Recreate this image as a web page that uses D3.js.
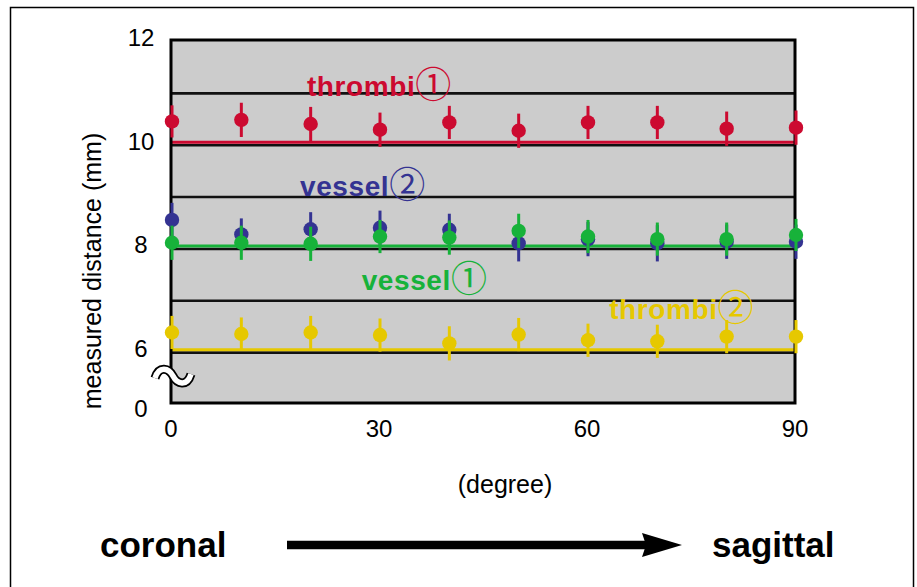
<!DOCTYPE html>
<html>
<head>
<meta charset="utf-8">
<script src="https://cdn.jsdelivr.net/npm/d3@7"></script>
<style>
  body { margin: 0; background: #fff; }
  svg text { font-family: "Liberation Sans", Arial, Helvetica, sans-serif; }
</style>
</head>
<body>
<svg id="chart" width="917" height="587"></svg>
<script>
// angle of the slice (degree)
const degrees = [0, 10, 20, 30, 40, 50, 60, 70, 80, 90];

// mean measured distance (mm) and SD for each target
const thrombi1 = [10.43, 10.46, 10.38, 10.27, 10.41, 10.25, 10.41, 10.41, 10.29, 10.31];
const thrombi1Sd = [0.31, 0.33, 0.33, 0.33, 0.32, 0.33, 0.32, 0.32, 0.33, 0.33];
const vessel2 = [8.53, 8.25, 8.35, 8.38, 8.34, 8.08, 8.16, 8.08, 8.11, 8.11];
const vessel2Sd = [0.33, 0.31, 0.33, 0.33, 0.31, 0.35, 0.33, 0.35, 0.33, 0.33];
const vessel1 = [8.09, 8.09, 8.07, 8.21, 8.19, 8.32, 8.21, 8.16, 8.16, 8.24];
const vessel1Sd = [0.33, 0.33, 0.33, 0.32, 0.33, 0.33, 0.32, 0.32, 0.32, 0.31];
const thrombi2 = [6.36, 6.33, 6.36, 6.31, 6.15, 6.32, 6.21, 6.19, 6.28, 6.28];
const thrombi2Sd = [0.32, 0.32, 0.32, 0.32, 0.33, 0.32, 0.32, 0.32, 0.32, 0.32];

// true sizes (reference lines)
const trueSizes = [10, 8, 6];

// axis ticks
const xTicks = [0, 30, 60, 90];
const yTicks = [12, 10, 8, 6];
const yTickBreak = 5;         // drawn as "0" after the axis break
const gridValues = [6, 7, 8, 9, 10, 11];

// series labels: [text, circled number, degree, mm]
const labelText = ['thrombi', 'vessel', 'vessel', 'thrombi'];
const labelNum = ['①', '②', '①', '②'];
const labelDeg = [19.6, 18.6, 27.5, 63.2];
const labelMm = [10.92, 8.99, 7.18, 6.62];

const colors = {
  thrombi1: '#cc0a30',
  vessel2: '#343392',
  vessel1: '#17b23a',
  thrombi2: '#e6c800'
};

const svg = d3.select('#chart');

const plot = { left: 171, right: 795, top: 40, bottom: 403 };

const x = d3.scaleLinear().domain([0, 90]).range([plot.left, plot.right]);
const y = d3.scaleLinear().domain([yTickBreak, 12]).range([plot.bottom, plot.top]);

// outer frame of the figure
svg.append('rect')
  .attr('x', 10.5).attr('y', 7.5)
  .attr('width', 903).attr('height', 600)
  .style('fill', 'none')
  .style('stroke', '#000')
  .style('stroke-width', 1.5);

// plot background
svg.append('rect')
  .attr('x', plot.left).attr('y', plot.top)
  .attr('width', plot.right - plot.left)
  .attr('height', plot.bottom - plot.top)
  .style('fill', '#cccccc');

// grid
svg.append('g').selectAll('line')
  .data(gridValues)
  .enter()
  .append('line')
  .attr('x1', plot.left).attr('x2', plot.right)
  .attr('y1', d => y(d) + 1.5).attr('y2', d => y(d) + 1.5)
  .style('stroke', '#111')
  .style('stroke-width', 2.6);

// true size lines
const refColors = [colors.thrombi1, colors.vessel1, colors.thrombi2];
svg.append('g').selectAll('line')
  .data(trueSizes)
  .enter()
  .append('line')
  .attr('x1', plot.left).attr('x2', plot.right)
  .attr('y1', d => y(d) - 1.5).attr('y2', d => y(d) - 1.5)
  .style('stroke', (d, i) => refColors[i])
  .style('stroke-width', 3);

// plot frame
svg.append('rect')
  .attr('x', plot.left).attr('y', plot.top)
  .attr('width', plot.right - plot.left)
  .attr('height', plot.bottom - plot.top)
  .style('fill', 'none')
  .style('stroke', '#000')
  .style('stroke-width', 3);

// series
const series = [
  { key: 'thrombi1', values: thrombi1, sd: thrombi1Sd },
  { key: 'thrombi2', values: thrombi2, sd: thrombi2Sd },
  { key: 'vessel2', values: vessel2, sd: vessel2Sd },
  { key: 'vessel1', values: vessel1, sd: vessel1Sd }
];

series.forEach(s => {
  const g = svg.append('g').attr('class', s.key);
  const pts = degrees.map((d, i) => ({ deg: d, v: s.values[i], sd: s.sd[i] }));

  g.selectAll('line')
    .data(pts)
    .enter()
    .append('line')
    .attr('x1', d => x(d.deg) + 1).attr('x2', d => x(d.deg) + 1)
    .attr('y1', d => y(d.v - d.sd)).attr('y2', d => y(d.v + d.sd))
    .style('stroke', colors[s.key])
    .style('stroke-width', 3);

  g.selectAll('circle')
    .data(pts)
    .enter()
    .append('circle')
    .attr('cx', d => x(d.deg) + 1)
    .attr('cy', d => y(d.v))
    .attr('r', 7.2)
    .style('fill', colors[s.key]);
});

// series labels
const labelColors = [colors.thrombi1, colors.vessel2, colors.vessel1, colors.thrombi2];
labelText.forEach((t, i) => {
  const txt = svg.append('text')
    .attr('x', x(labelDeg[i]))
    .attr('y', y(labelMm[i]))
    .style('fill', labelColors[i]);
  txt.append('tspan')
    .text(t)
    .style('font-size', '28px')
    .style('font-weight', 'bold')
    .style('letter-spacing', '0.6px');
  txt.append('tspan')
    .text(labelNum[i])
    .attr('dx', 0)
    .attr('dy', 2)
    .style('font-family', '"Noto Sans CJK JP", "DejaVu Sans", sans-serif')
    .style('font-size', '36px');
});

// y tick labels
svg.append('g').selectAll('text')
  .data(yTicks.concat([yTickBreak]))
  .enter()
  .append('text')
  .attr('x', 141)
  .attr('y', d => d === yTickBreak ? y(d) + 14 : y(d) + 6)
  .attr('text-anchor', 'middle')
  .style('font-size', '24px')
  .text(d => d === yTickBreak ? '0' : d);

// axis break mark
const brk = svg.append('g')
  .attr('transform', `translate(${plot.left + 2},${y(5.5) - 1})`);
const wave = 'M-18,2 C-14,-11 -4,-8 0,0 C4,8 14,11 18,-2';
brk.append('path').attr('d', wave)
  .style('fill', 'none').style('stroke', '#000').style('stroke-width', 9);
brk.append('path').attr('d', wave)
  .style('fill', 'none').style('stroke', '#fff').style('stroke-width', 5.5);

// x tick labels
svg.append('g').selectAll('text')
  .data(xTicks)
  .enter()
  .append('text')
  .attr('x', d => x(d))
  .attr('y', 437)
  .attr('text-anchor', 'middle')
  .style('font-size', '24px')
  .text(d => d);

// axis titles
svg.append('text')
  .attr('x', 505).attr('y', 493)
  .attr('text-anchor', 'middle')
  .style('font-size', '25px')
  .text('(degree)');

svg.append('text')
  .attr('transform', 'translate(101,271) rotate(-90)')
  .attr('text-anchor', 'middle')
  .style('font-size', '25px')
  .text('measured distance (mm)');

// coronal -> sagittal
svg.append('text')
  .attr('x', 100).attr('y', 557)
  .style('font-size', '35px').style('font-weight', 'bold')
  .text('coronal');
svg.append('text')
  .attr('x', 712).attr('y', 557)
  .style('font-size', '35px').style('font-weight', 'bold')
  .text('sagittal');

svg.append('line')
  .attr('x1', 287).attr('x2', 648)
  .attr('y1', 545).attr('y2', 545)
  .style('stroke', '#000')
  .style('stroke-width', 8.5);
svg.append('path')
  .attr('d', 'M642,533 L682,545 L642,557 L646,545 Z')
  .style('fill', '#000');
</script>
</body>
</html>
